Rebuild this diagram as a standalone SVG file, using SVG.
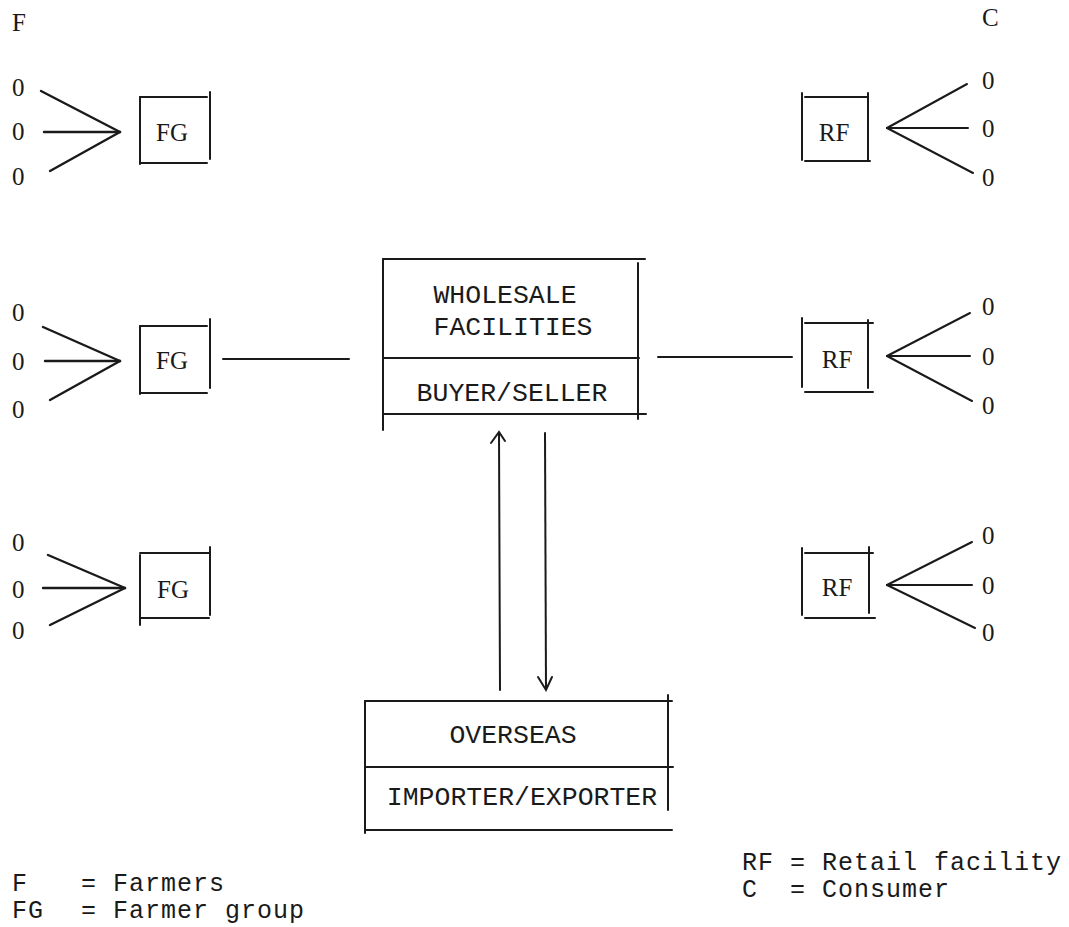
<svg xmlns="http://www.w3.org/2000/svg" width="1069" height="927" viewBox="0 0 1069 927">
<style>
text{font-family:"Liberation Mono","Courier New",monospace;font-size:26.5px;fill:#1a1a1a}
.s{font-family:"Liberation Serif","Times New Roman",serif;font-size:25px}
.m{text-anchor:middle}
.lg{font-size:25px;letter-spacing:1px}
line,path{stroke:#1a1a1a;stroke-width:2;fill:none;stroke-linecap:round}
.f{stroke-width:2.4}
</style>
<rect width="1069" height="927" fill="#fff"/>
<g id="headers">
<text class="s" x="12" y="31">F</text>
<text class="s" x="982" y="26">C</text>
</g>
<g id="farmers">
<text class="s" x="12" y="96">0</text><text class="s" x="12" y="140">0</text><text class="s" x="12" y="185">0</text>
<text class="s" x="12" y="321">0</text><text class="s" x="12" y="370">0</text><text class="s" x="12" y="418">0</text>
<text class="s" x="12" y="551">0</text><text class="s" x="12" y="598">0</text><text class="s" x="12" y="639">0</text>
</g>
<g id="consumers">
<text class="s" x="982" y="89">0</text><text class="s" x="982" y="137">0</text><text class="s" x="982" y="186">0</text>
<text class="s" x="982" y="315">0</text><text class="s" x="982" y="365">0</text><text class="s" x="982" y="414">0</text>
<text class="s" x="982" y="544">0</text><text class="s" x="982" y="594">0</text><text class="s" x="982" y="641">0</text>
</g>
<g id="fg1">
<line x1="140" y1="97" x2="140" y2="164"/><line x1="140" y1="97" x2="207" y2="97"/><line x1="210" y1="92" x2="210" y2="159"/><line x1="140" y1="163" x2="207" y2="163"/>
<text class="s m" x="172" y="141">FG</text>
</g>
<g id="fg2">
<line x1="140" y1="326" x2="140" y2="394"/><line x1="140" y1="326" x2="207" y2="326"/><line x1="210" y1="319" x2="210" y2="388"/><line x1="140" y1="393" x2="207" y2="393"/>
<text class="s m" x="172" y="369">FG</text>
</g>
<g id="fg3">
<line x1="140" y1="555" x2="140" y2="625"/><line x1="140" y1="553" x2="210" y2="553"/><line x1="210" y1="547" x2="210" y2="615"/><line x1="140" y1="618" x2="209" y2="618"/>
<text class="s m" x="173" y="598">FG</text>
</g>
<g id="rf1">
<line x1="802" y1="93" x2="802" y2="160"/><line x1="805" y1="97" x2="868" y2="97"/><line x1="868" y1="93" x2="868" y2="160"/><line x1="805" y1="161" x2="870" y2="161"/>
<text class="s m" x="834" y="141">RF</text>
</g>
<g id="rf2">
<line x1="802" y1="318" x2="802" y2="387"/><line x1="805" y1="323" x2="873" y2="323"/><line x1="868" y1="320" x2="868" y2="388"/><line x1="805" y1="392" x2="873" y2="392"/>
<text class="s m" x="837" y="368">RF</text>
</g>
<g id="rf3">
<line x1="802" y1="548" x2="802" y2="615"/><line x1="805" y1="553" x2="873" y2="553"/><line x1="869" y1="547" x2="869" y2="613"/><line x1="805" y1="618" x2="875" y2="618"/>
<text class="s m" x="837" y="596">RF</text>
</g>
<g id="wholesale">
<line x1="383" y1="259" x2="645" y2="259"/><line x1="383" y1="259" x2="383" y2="430"/><line x1="638" y1="263" x2="638" y2="419"/><line x1="383" y1="358" x2="639" y2="358"/><line x1="383" y1="414" x2="646" y2="414"/>
<text class="m" x="505" y="303">WHOLESALE</text>
<text class="m" x="513" y="335">FACILITIES</text>
<text class="m" x="512" y="401">BUYER/SELLER</text>
</g>
<g id="overseas">
<line x1="365" y1="701" x2="672" y2="701"/><line x1="365" y1="701" x2="365" y2="833"/><line x1="668" y1="695" x2="668" y2="810"/><line x1="365" y1="767" x2="673" y2="767"/><line x1="365" y1="830" x2="672" y2="830"/>
<text class="m" x="513" y="743">OVERSEAS</text>
<text class="m" x="522" y="805">IMPORTER/EXPORTER</text>
</g>
<g id="legend">
<text class="lg" x="12" y="891">F</text><text class="lg" x="81" y="891">= Farmers</text>
<text class="lg" x="12" y="918">FG</text><text class="lg" x="81" y="918">= Farmer group</text>
<text class="lg" x="742" y="870" xml:space="preserve">RF = Retail facility</text>
<text class="lg" x="742" y="897" xml:space="preserve">C  = Consumer</text>
</g>
<g id="connectors">
<line class="f" x1="41" y1="91" x2="120" y2="132"/><line class="f" x1="44" y1="132" x2="120" y2="132"/><line class="f" x1="50" y1="171" x2="120" y2="132"/>
<line class="f" x1="43" y1="327" x2="120" y2="361"/><line class="f" x1="45" y1="361" x2="120" y2="361"/><line class="f" x1="50" y1="400" x2="120" y2="361"/>
<line class="f" x1="48" y1="555" x2="125" y2="588"/><line class="f" x1="43" y1="588" x2="125" y2="588"/><line class="f" x1="50" y1="625" x2="125" y2="588"/>
<line x1="887" y1="128" x2="967" y2="84"/><line x1="887" y1="128" x2="968" y2="128"/><line x1="887" y1="128" x2="973" y2="173"/>
<line x1="887" y1="356" x2="970" y2="313"/><line x1="887" y1="356" x2="970" y2="356"/><line x1="887" y1="356" x2="972" y2="401"/>
<line x1="887" y1="585" x2="972" y2="542"/><line x1="887" y1="585" x2="972" y2="585"/><line x1="887" y1="585" x2="975" y2="628"/>
<line x1="223" y1="359" x2="349" y2="359"/>
<line x1="658" y1="357" x2="792" y2="357"/>
<line x1="500" y1="690" x2="499" y2="433"/><path d="M491 443 L499 432 L505 441"/>
<line x1="545" y1="433" x2="546" y2="689"/><path d="M538 677 L546 690 L552 677"/>
</g>
</svg>
